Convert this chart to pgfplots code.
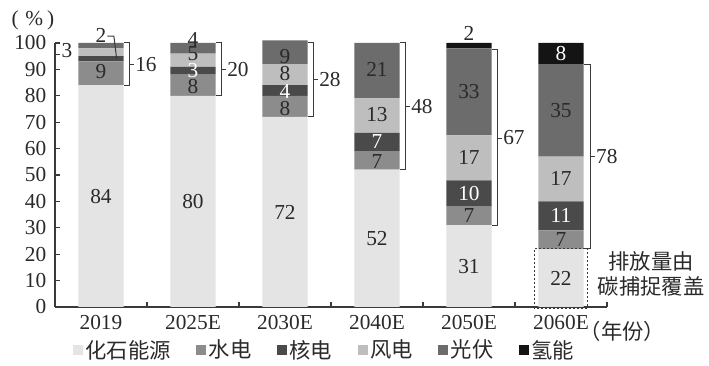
\documentclass[border=0pt]{standalone}
\usepackage{fontspec}
\setmainfont{Liberation Serif}
\newfontfamily\cjk{Noto Sans CJK SC}
\usepackage{pgfplots}
\pgfplotsset{compat=1.18}
\usepackage{pgfplotstable}

\definecolor{cFossil}{HTML}{E4E4E4}
\definecolor{cHydro}{HTML}{8C8C8C}
\definecolor{cNuclear}{HTML}{4A4A4A}
\definecolor{cWind}{HTML}{BEBEBE}
\definecolor{cPV}{HTML}{6C6C6C}
\definecolor{cH2}{HTML}{141414}
\definecolor{cText}{HTML}{2A2A2A}
\definecolor{cLine}{HTML}{3A3A3A}

% energy mix by year, percent
\pgfplotstableread{
x fossil hydro nuclear wind pv hydrogen
0 84 9 2 3 2 0
1 80 8 3 5 4 0
2 72 8 4 8 9 0
3 52 7 7 13 21 0
4 31 7 10 17 33 2
5 22 7 11 17 35 8
}\mix

\newcommand{\lblfont}{\fontsize{16}{18}\selectfont}
\newcommand{\cjkfont}{\cjk\fontsize{16}{19}\selectfont}

\tikzset{
  lbl/.style={font=\lblfont, text=cText, inner sep=0pt},
  wlbl/.style={font=\lblfont, text=white, inner sep=0pt},
  brk/.style={cLine, line width=0.75pt},
}
\pgfplotsset{
  frame/.style={at={(0,0)}, anchor=south west,
    scale only axis, width=414pt, height=198pt,
    xmin=-0.5, xmax=5.5, ymin=0, ymax=100, clip=false},
}

\begin{document}
\begin{tikzpicture}
\path[use as bounding box] (-41.25pt,-44.25pt) rectangle (490.5pt,230.25pt);
% bars, axes and legend
\begin{axis}[
  frame,
  ybar stacked, bar width=0.49,
  axis x line*=bottom, axis y line*=left,
  axis line style={-, cLine, line width=0.8pt},
  every tick/.style={cLine, line width=0.8pt},
  tick align=inside,
  major tick length=4pt,
  xtick={0.5,1.5,2.5,3.5,4.5,5.5},
  xticklabels={},
  extra x ticks={0,1,2,3,4,5},
  extra x tick labels={2019,2025E,2030E,2040E,2050E,2060E},
  extra x tick style={major tick length=0pt},
  ytick={0,10,...,100},
  /pgf/number format/assume math mode=true,
  every tick label/.append style={font=\lblfont, text=cText},
  xticklabel style={yshift=-3pt},
  yticklabel style={xshift=-3pt},
  legend style={draw=none, at={(0.489,-0.163)}, anchor=center,
    font=\cjkfont, text=cText, inner sep=0pt,
    /tikz/every even column/.append style={column sep=17pt}},
  legend columns=-1,
  legend image code/.code={\draw[#1, draw=none] (0pt,-3.75pt) rectangle (7.5pt,3.75pt);},
]
\addplot[fill=cFossil, draw=none] table[x=x, y=fossil]{\mix};
\addlegendentry{化石能源}
\addplot[fill=cHydro, draw=none] table[x=x, y=hydro]{\mix};
\addlegendentry{水电}
\addplot[fill=cNuclear, draw=none] table[x=x, y=nuclear]{\mix};
\addlegendentry{核电}
\addplot[fill=cWind, draw=none] table[x=x, y=wind]{\mix};
\addlegendentry{风电}
\addplot[fill=cPV, draw=none] table[x=x, y=pv]{\mix};
\addlegendentry{光伏}
\addplot[fill=cH2, draw=none] table[x=x, y=hydrogen]{\mix};
\addlegendentry{氢能}
\end{axis}

% value labels, brackets and notes on top of the bars
\begin{axis}[frame, hide axis]
% 2019
\node[lbl] at (axis cs:0,42) {84};
\node[lbl] at (axis cs:0,89) {9};
\node[lbl] at (axis cs:-0.37,97) {3};
\node[lbl] at (axis cs:0,103) {2};
\draw[brk] (axis cs:-0.5,95.5) -- (axis cs:-0.45,95.5);
\draw[brk] (axis cs:0.07,102.6) -- (axis cs:0.14,102.6) -- (axis cs:0.17,94);
% 2025E
\node[lbl] at (axis cs:1,40) {80};
\node[lbl] at (axis cs:1,83.5) {8};
\node[wlbl] at (axis cs:1,89.5) {3};
\node[lbl] at (axis cs:1,95.8) {5};
\node[lbl] at (axis cs:1,101.5) {4};
% 2030E
\node[lbl] at (axis cs:2,36) {72};
\node[lbl] at (axis cs:2,75.3) {8};
\node[wlbl] at (axis cs:2,81.7) {4};
\node[lbl] at (axis cs:2,88.5) {8};
\node[lbl] at (axis cs:2,95) {9};
% 2040E
\node[lbl] at (axis cs:3,26) {52};
\node[lbl] at (axis cs:3,55) {7};
\node[wlbl] at (axis cs:3,62.5) {7};
\node[lbl] at (axis cs:3,73) {13};
\node[lbl] at (axis cs:3,90) {21};
% 2050E
\node[lbl] at (axis cs:4,15.5) {31};
\node[lbl] at (axis cs:4,34.5) {7};
\node[wlbl] at (axis cs:4,43) {10};
\node[lbl] at (axis cs:4,56.5) {17};
\node[lbl] at (axis cs:4,81.5) {33};
\node[lbl] at (axis cs:4,103.5) {2};
% 2060E
\node[lbl] at (axis cs:5,11) {22};
\node[lbl] at (axis cs:5,25.5) {7};
\node[wlbl] at (axis cs:5,34.5) {11};
\node[lbl] at (axis cs:5,48.5) {17};
\node[lbl] at (axis cs:5,74.5) {35};
\node[wlbl] at (axis cs:5,96) {8};

% brackets: non-fossil share
\draw[brk] (axis cs:0.25,100) -- (axis cs:0.31,100) -- (axis cs:0.31,84) -- (axis cs:0.25,84);
\draw[brk] (axis cs:0.31,92) -- (axis cs:0.36,92);
\node[lbl, anchor=west] at (axis cs:0.37,92) {16};
\draw[brk] (axis cs:1.25,100) -- (axis cs:1.31,100) -- (axis cs:1.31,80) -- (axis cs:1.25,80);
\draw[brk] (axis cs:1.31,90) -- (axis cs:1.36,90);
\node[lbl, anchor=west] at (axis cs:1.37,90) {20};
\draw[brk] (axis cs:2.25,100) -- (axis cs:2.31,100) -- (axis cs:2.31,72) -- (axis cs:2.25,72);
\draw[brk] (axis cs:2.31,86) -- (axis cs:2.36,86);
\node[lbl, anchor=west] at (axis cs:2.37,86) {28};
\draw[brk] (axis cs:3.25,100) -- (axis cs:3.31,100) -- (axis cs:3.31,52) -- (axis cs:3.25,52);
\draw[brk] (axis cs:3.31,76) -- (axis cs:3.36,76);
\node[lbl, anchor=west] at (axis cs:3.37,76) {48};
\draw[brk] (axis cs:4.25,97.5) -- (axis cs:4.31,97.5) -- (axis cs:4.31,31) -- (axis cs:4.25,31);
\draw[brk] (axis cs:4.31,64) -- (axis cs:4.36,64);
\node[lbl, anchor=west] at (axis cs:4.37,64) {67};
\draw[brk] (axis cs:5.25,92) -- (axis cs:5.32,92) -- (axis cs:5.32,22) -- (axis cs:5.25,22);
\draw[brk] (axis cs:5.32,57) -- (axis cs:5.37,57);
\node[lbl, anchor=west] at (axis cs:5.38,57) {78};

% carbon capture box
\draw[brk, line width=0.8pt, dash pattern=on 1.5pt off 1.5pt] (axis cs:4.71,-0.4) rectangle (axis cs:5.29,22);
\node[font=\cjkfont, text=cText, align=center, inner sep=0pt] at (axis cs:5.98,12.5) {排放量由\\碳捕捉覆盖};

% axis captions
\node[font=\lblfont, text=cText, inner sep=0pt] at (rel axis cs:-0.04,1.087) {(\hspace{5pt}\%\hspace{3pt})};
\node[font=\cjkfont, text=cText, anchor=west, inner sep=0pt] at (axis cs:5.2,-9.3) {（年份）};
\end{axis}
\end{tikzpicture}
\end{document}
